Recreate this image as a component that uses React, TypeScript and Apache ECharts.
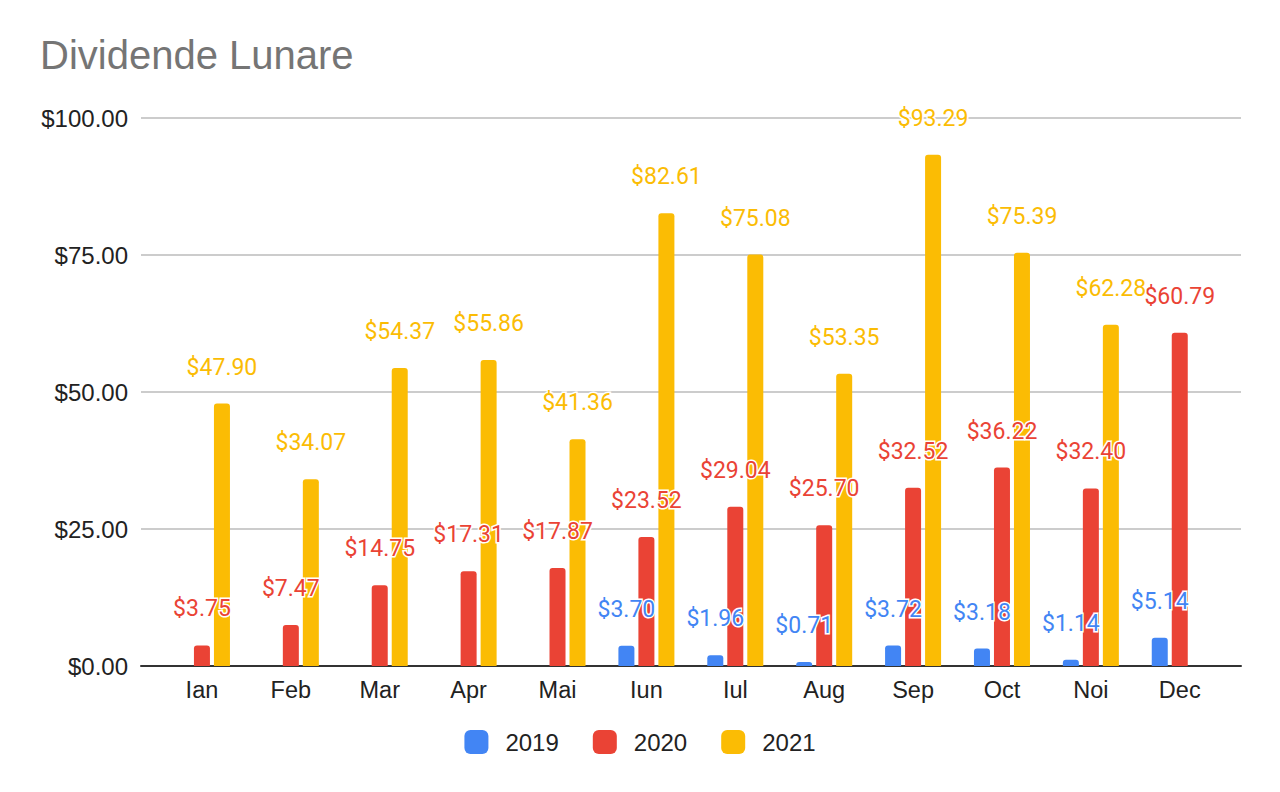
import React, { useEffect, useRef } from "react";
import * as echarts from "echarts";

const months = ["Ian", "Feb", "Mar", "Apr", "Mai", "Iun", "Iul", "Aug", "Sep", "Oct", "Noi", "Dec"];
const seriesNames = ["2019", "2020", "2021"];
const values2019: (number | null)[] = [null, null, null, null, null, 3.7, 1.96, 0.71, 3.72, 3.18, 1.14, 5.14];
const values2020: (number | null)[] = [3.75, 7.47, 14.75, 17.31, 17.87, 23.52, 29.04, 25.7, 32.52, 36.22, 32.4, 60.79];
const values2021: (number | null)[] = [47.9, 34.07, 54.37, 55.86, 41.36, 82.61, 75.08, 53.35, 93.29, 75.39, 62.28, null];
const yTicks = { min: 0, max: 100, interval: 25 };
const colors = ["#4285F4", "#EA4335", "#FBBC04"];

export default function App() {
  const ref = useRef<HTMLDivElement>(null);
  useEffect(() => {
    if (!ref.current) return;
    const chart = echarts.init(ref.current, null, { renderer: "svg" });
    const allValues = [values2019, values2020, values2021];
    const fmt = (v: number) => "$" + v.toFixed(2);
    const series = allValues.map((vals, i) => ({
      name: seriesNames[i],
      type: "bar",
      xAxisIndex: 1,
      yAxisIndex: 1,
      barWidth: 16,
      barGap: "25%",
      data: vals,
      itemStyle: { color: colors[i], borderRadius: [3, 3, 0, 0] },
      label: {
        show: true,
        position: "top",
        distance: 25,
        formatter: (p: any) => (p.value == null ? "" : fmt(p.value)),
        color: colors[i],
        fontFamily: "Roboto",
        fontSize: 23,
        textBorderColor: "#ffffff",
        textBorderWidth: 3,
      },
    }));
    chart.setOption({
      animation: false,
      color: colors,
      title: {
        text: "Dividende Lunare",
        left: 40,
        top: 35,
        padding: 0,
        textStyle: { fontFamily: "Liberation Sans", fontSize: 40, fontWeight: "normal", color: "#757575" },
      },
      legend: {
        data: seriesNames,
        top: 725,
        left: "center",
        icon: "roundRect",
        itemWidth: 24,
        itemHeight: 24,
        itemGap: 34,
        textStyle: { fontFamily: "Liberation Sans", fontSize: 24, color: "#222222", padding: [0, 0, 0, 12] },
      },
      grid: [
        { left: 141, right: 39, top: 118, bottom: 126 },
        { left: 157.5, right: 55.8, top: 118, bottom: 126 },
      ],
      xAxis: [
        {
          type: "category",
          gridIndex: 0,
          data: months,
          axisLine: { show: true, lineStyle: { color: "#333333", width: 2 } },
          axisTick: { show: false },
          axisLabel: { show: false },
          splitLine: { show: false },
        },
        {
          type: "category",
          gridIndex: 1,
          data: months,
          axisLine: { show: false },
          axisTick: { show: false },
          axisLabel: { fontFamily: "Liberation Sans", fontSize: 23.5, color: "#222222", margin: 12 },
          splitLine: { show: false },
        },
      ],
      yAxis: [
        {
          type: "value",
          gridIndex: 0,
          min: yTicks.min,
          max: yTicks.max,
          interval: yTicks.interval,
          axisLine: { show: false },
          axisTick: { show: false },
          axisLabel: {
            formatter: (v: number) => fmt(v),
            fontFamily: "Liberation Sans",
            fontSize: 24,
            color: "#222222",
            margin: 13,
          },
          splitLine: { lineStyle: { color: "#cccccc", width: 2 } },
        },
        {
          type: "value",
          gridIndex: 1,
          min: yTicks.min,
          max: yTicks.max,
          interval: yTicks.interval,
          show: false,
          splitLine: { show: false },
        },
      ],
      series,
    });
    return () => chart.dispose();
  }, []);
  return <div ref={ref} style={{ position: "absolute", left: 0, top: 0, width: 1280, height: 792, background: "#fff" }} />;
}
